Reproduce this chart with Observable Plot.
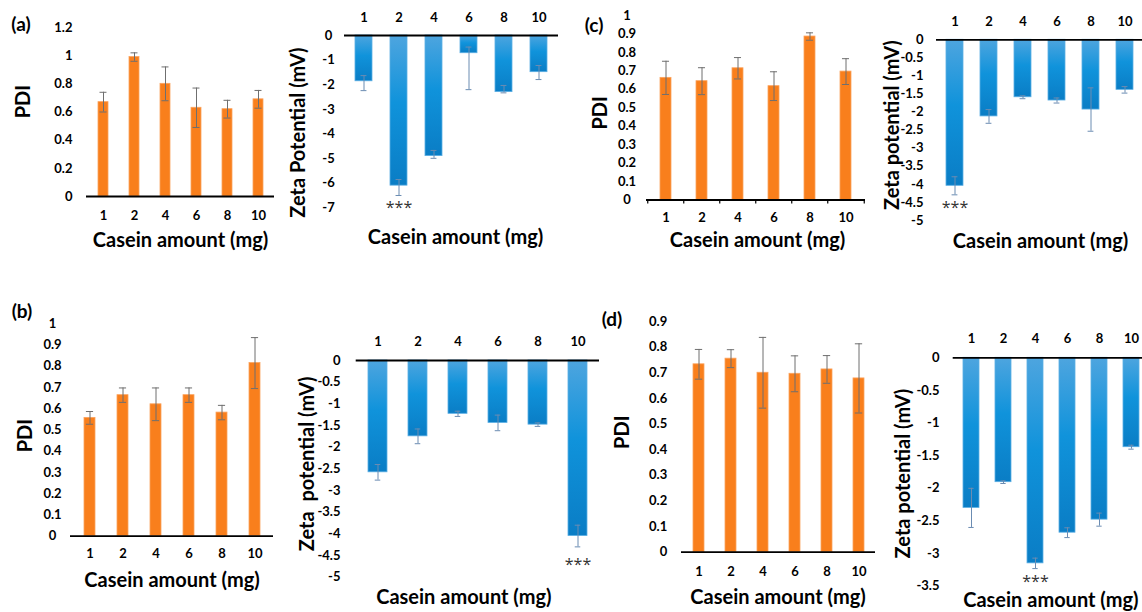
<!DOCTYPE html>
<html><head><meta charset="utf-8">
<script src="https://cdn.jsdelivr.net/npm/d3@7"></script>
<script src="https://cdn.jsdelivr.net/npm/@observablehq/plot@0.6"></script>
<style>
body{margin:0;background:#fff;}
#wrap{position:relative;width:1142px;height:612px;overflow:hidden;font-family:Lato,"Open Sans",sans-serif;}
#wrap svg{position:absolute;left:0;top:0;}
.tag{position:absolute;font:700 19px Lato,sans-serif;transform:translate(-50%,-50%);color:#000;white-space:nowrap;}
</style></head>
<body><div id="wrap"></div>
<script>
const categories = ["1","2","4","6","8","10"];

// (a)
const pdiA = [0.67, 0.99, 0.80, 0.63, 0.62, 0.69];
const pdiAErr = [0.07, 0.03, 0.12, 0.14, 0.063, 0.063];
const zetaA = [-1.86, -6.10, -4.90, -0.72, -2.30, -1.49];
const zetaAErrUp = [0.23, 0.25, 0.23, 0.25, 0.27, 0.27];
const zetaAErrDown = [0.38, 0.40, 0.09, 1.48, 0.03, 0.30];
const zetaAStars = ["", "***", "", "", "", ""];

// (b)
const pdiB = [0.557, 0.664, 0.621, 0.664, 0.582, 0.815];
const pdiBErr = [0.03, 0.034, 0.077, 0.034, 0.034, 0.12];
const zetaB = [-2.58, -1.75, -1.23, -1.44, -1.48, -4.05];
const zetaBErr = [0.18, 0.17, 0.06, 0.18, 0.04, 0.25];
const zetaBStars = ["", "", "", "", "", "***"];

// (c)
const pdiC = [0.662, 0.644, 0.714, 0.617, 0.886, 0.696];
const pdiCErr = [0.09, 0.073, 0.058, 0.078, 0.02, 0.07];
const zetaC = [-4.04, -2.12, -1.59, -1.68, -1.93, -1.385];
const zetaCErr = [0.25, 0.19, 0.04, 0.07, 0.60, 0.09];
const zetaCStars = ["***", "", "", "", "", ""];

// (d)
const pdiD = [0.733, 0.755, 0.70, 0.696, 0.713, 0.678];
const pdiDErr = [0.058, 0.035, 0.138, 0.07, 0.054, 0.135];
const zetaD = [-2.30, -1.906, -3.15, -2.68, -2.48, -1.37];
const zetaDErr = [0.30, 0.02, 0.08, 0.075, 0.10, 0.03];
const zetaDStars = ["", "", "***", "", "", ""];

// tick labels
const ticksPdi12 = [0, 0.2, 0.4, 0.6, 0.8, 1, 1.2];
const ticksPdi10 = [0, 0.1, 0.2, 0.3, 0.4, 0.5, 0.6, 0.7, 0.8, 0.9, 1];
const ticksPdi09 = [0, 0.1, 0.2, 0.3, 0.4, 0.5, 0.6, 0.7, 0.8, 0.9];
const ticksZeta7 = [0, -1, -2, -3, -4, -5, -6, -7];
const ticksZeta5 = [0, -0.5, -1, -1.5, -2, -2.5, -3, -3.5, -4, -4.5, -5];
const ticksZeta35 = [0, -0.5, -1, -1.5, -2, -2.5, -3, -3.5];

const xTitle = "Casein amount (mg)";

const W = 1142, H = 612;
const ORANGE = "#f97f1c", ORANGE_EDGE = "#fba35e";
const BLUE_EDGE = "#5aaee4";
const ERR_PDI = "#6f6f6f", ERR_ZETA = "#6b8cb2";

function panel(o) {
  const n = categories.length;
  const rows = categories.map((c, i) => ({
    cat: c, v: o.values[i],
    hi: o.values[i] + o.up[i], lo: o.values[i] - o.down[i],
    star: o.stars ? o.stars[i] : ""
  }));
  const xr = o.xRange || [o.frame.l, o.frame.r];
  const step = (xr[1] - xr[0]) / n;
  const bw = step * (1 - o.pad);
  const capInset = Math.max(0, (bw - o.cap) / 2);
  const isZeta = o.kind === "zeta";
  const gid = "grad-" + o.id;
  const errColor = isZeta ? ERR_ZETA : ERR_PDI;
  const marks = [];
  if (isZeta) {
    marks.push(() => {
      const defs = document.createElementNS("http://www.w3.org/2000/svg", "defs");
      defs.innerHTML = `<linearGradient id="${gid}" x1="0" y1="0" x2="0" y2="1">
        <stop offset="0" stop-color="#4ea5df"/><stop offset="0.45" stop-color="#1093db"/>
        <stop offset="1" stop-color="#0a7dc5"/></linearGradient>`;
      return defs;
    });
  }
  marks.push(Plot.barY(rows, {x: "cat", y: "v", fill: isZeta ? `url(#${gid})` : ORANGE,
    stroke: isZeta ? BLUE_EDGE : ORANGE_EDGE, strokeWidth: 0.8}));
  marks.push(Plot.ruleX(rows, {x: "cat", y1: "lo", y2: "hi", stroke: errColor, strokeWidth: 1}));
  marks.push(Plot.tickY(rows, {x: "cat", y: "hi", stroke: errColor, strokeWidth: 1, insetLeft: capInset, insetRight: capInset}));
  marks.push(Plot.tickY(rows, {x: "cat", y: "lo", stroke: errColor, strokeWidth: 1, insetLeft: capInset, insetRight: capInset}));
  if (o.boundaryTicks) {
    const pxPerUnit = (o.frame.b - o.frame.t) / (o.yDomain[1] - o.yDomain[0]);
    const len = 4 / pxPerUnit;
    marks.push(Plot.ruleX(categories, {x: d => d, dx: -step / 2, y1: 0, y2: -len, stroke: "#000", strokeWidth: 1.2}));
    marks.push(Plot.ruleX(categories.slice(-1), {x: d => d, dx: step / 2, y1: 0, y2: -len, stroke: "#000", strokeWidth: 1.2}));
  }
  marks.push(Plot.ruleY([0], {stroke: "#000", strokeWidth: 1.8}));
  marks.push(Plot.text(o.ticks, {y: d => d, text: d => String(d), frameAnchor: "left", dx: o.tickDx,
    textAnchor: o.tickAnchor, lineAnchor: "middle", fontSize: 13, fontWeight: 700}));
  marks.push(Plot.text(categories, {x: d => d, text: d => d, frameAnchor: isZeta ? "top" : "bottom",
    dy: o.catDy, textAnchor: "middle", lineAnchor: "middle", fontSize: 13, fontWeight: 700}));
  if (o.stars) {
    marks.push(Plot.text(rows.filter(r => r.star), {x: "cat", y: "lo", text: "star", dy: o.starDy,
      textAnchor: "middle", lineAnchor: "middle", fontSize: 16, fontWeight: 400, fill: "#333",
      fontFamily: "'Open Sans', sans-serif"}));
  }
  marks.push(Plot.text([o.yTitle], {text: d => d, frameAnchor: "left", rotate: -90, dx: o.yTitleDx, dy: o.yTitleDy,
    textAnchor: "middle", lineAnchor: "middle", fontSize: 20, fontWeight: 700}));
  marks.push(Plot.text([xTitle], {text: d => d, frameAnchor: "bottom", dx: o.xTitleDx, dy: o.xTitleDy,
    textAnchor: "middle", lineAnchor: "middle", fontSize: 20, fontWeight: 700}));
  return Plot.plot({
    width: W, height: H,
    marginLeft: o.frame.l, marginRight: W - o.frame.r, marginTop: o.frame.t, marginBottom: H - o.frame.b,
    x: {type: "band", domain: categories, range: xr, paddingInner: o.pad, paddingOuter: o.pad / 2, axis: null},
    y: {domain: o.yDomain, axis: null},
    style: "background:transparent;font-family:Lato,'Open Sans',sans-serif;overflow:visible;",
    marks
  });
}

const panels = [
  {id: "aP", kind: "pdi", values: pdiA, up: pdiAErr, down: pdiAErr,
   frame: {l: 86, r: 274, t: 27, b: 196}, yDomain: [0, 1.2], ticks: ticksPdi12, tickAnchor: "end", tickDx: -14,
   pad: 0.68, cap: 7, catDy: 19, yTitle: "PDI", yTitleDx: -63, yTitleDy: -10.5, xTitleDx: 0, xTitleDy: 44},
  {id: "aZ", kind: "zeta", values: zetaA, up: zetaAErrUp, down: zetaAErrDown, stars: zetaAStars,
   frame: {l: 344, r: 558, t: 35, b: 207.3}, yDomain: [-7, 0], ticks: ticksZeta7, tickAnchor: "middle", tickDx: -16,
   pad: 0.52, cap: 6, catDy: -18, starDy: 12, yTitle: "Zeta Potential (mV)", yTitleDx: -46, yTitleDy: 11, xTitleDx: 4, xTitleDy: 30},
  {id: "cP", kind: "pdi", values: pdiC, up: pdiCErr, down: pdiCErr, boundaryTicks: true,
   frame: {l: 646, r: 865, t: 15, b: 199.5}, yDomain: [0, 1], ticks: ticksPdi10, tickAnchor: "middle", tickDx: -19.5,
   pad: 0.70, cap: 7, catDy: 17.5, yTitle: "PDI", yTitleDx: -46, yTitleDy: 5, xTitleDx: 1.5, xTitleDy: 40.5},
  {id: "cZ", kind: "zeta", values: zetaC, up: zetaCErr, down: zetaCErr, stars: zetaCStars,
   frame: {l: 936, r: 1142, t: 39.3, b: 220}, yDomain: [-5, 0], ticks: ticksZeta5, tickAnchor: "end", tickDx: -13,
   pad: 0.5, cap: 6, catDy: -17.6, starDy: 13, yTitle: "Zeta potential (mV)", yTitleDx: -44, yTitleDy: -5, xTitleDx: 1, xTitleDy: 20.7},
  {id: "bP", kind: "pdi", values: pdiB, up: pdiBErr, down: pdiBErr,
   frame: {l: 70, r: 273, t: 323.3, b: 535.7}, yDomain: [0, 1], ticks: ticksPdi10, tickAnchor: "middle", tickDx: -18,
   pad: 0.68, cap: 7, catDy: 17.6, yTitle: "PDI", yTitleDx: -45, yTitleDy: 5.5, xTitleDx: 0, xTitleDy: 44.3},
  {id: "bZ", kind: "zeta", values: zetaB, up: zetaBErr, down: zetaBErr, stars: zetaBStars,
   frame: {l: 355.7, r: 599, t: 360, b: 576.7}, yDomain: [-5, 0], ticks: ticksZeta5, tickAnchor: "end", tickDx: -15.7,
   pad: 0.52, cap: 6, catDy: -18.3, starDy: 18, yTitle: "Zeta\u00a0 potential (mV)", yTitleDx: -49, yTitleDy: -5, xTitleDx: -14, xTitleDy: 20},
  {id: "dP", kind: "pdi", values: pdiD, up: pdiDErr, down: pdiDErr,
   frame: {l: 681, r: 875, t: 321, b: 551.7}, yDomain: [0, 0.9], ticks: ticksPdi09, tickAnchor: "end", tickDx: -14.3,
   pad: 0.67, cap: 7, catDy: 19.3, yTitle: "PDI", yTitleDx: -59, yTitleDy: -4.7, xTitleDx: -0.5, xTitleDy: 45},
  {id: "dZ", kind: "zeta", values: zetaD, up: zetaDErr, down: zetaDErr, stars: zetaDStars,
   frame: {l: 952.7, r: 1142, t: 357.3, b: 585.7}, xRange: [952.7, 1149], yDomain: [-3.5, 0], ticks: ticksZeta35,
   tickAnchor: "end", tickDx: -13.7, pad: 0.49, cap: 6, catDy: -19, starDy: 13, yTitle: "Zeta potential (mV)",
   yTitleDx: -49.4, yTitleDy: 1.5, xTitleDx: 3, xTitleDy: 14}
];

const wrap = document.getElementById("wrap");
for (const p of panels) wrap.appendChild(panel(p));

const tags = [["(a)", 21, 23], ["(b)", 22, 310], ["(c)", 594, 24], ["(d)", 612, 318]];
for (const [t, x, y] of tags) {
  const d = document.createElement("div");
  d.className = "tag"; d.textContent = t;
  d.style.left = x + "px"; d.style.top = y + "px";
  wrap.appendChild(d);
}
</script>
</body></html>
